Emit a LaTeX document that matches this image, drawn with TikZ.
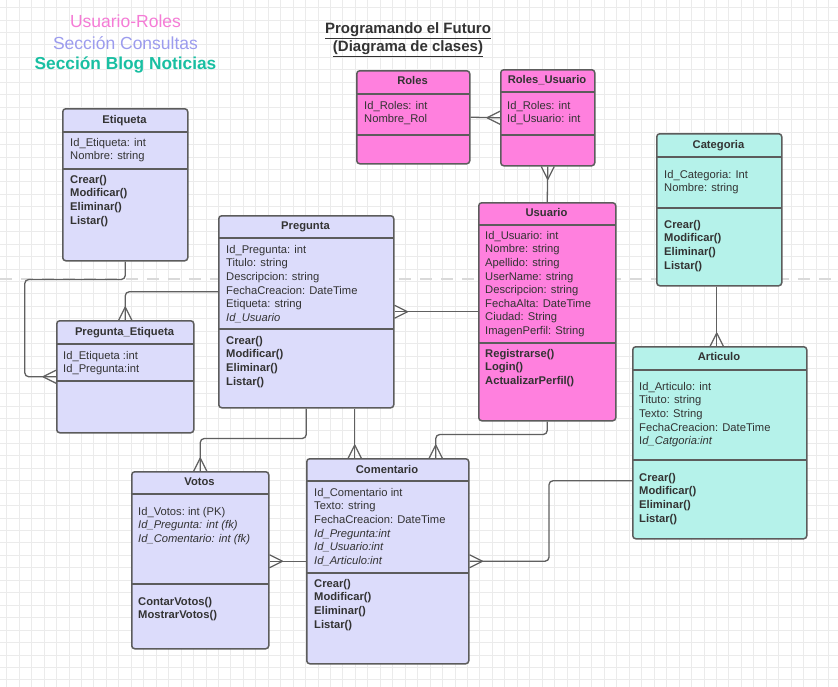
\documentclass[tikz,border=0pt]{standalone}
\usepackage{fontspec}
\setmainfont{Liberation Sans}
\usetikzlibrary{calc}
\definecolor{lav}{HTML}{DCDCFB}
\definecolor{pnk}{HTML}{FF80DE}
\definecolor{tea}{HTML}{B5F2EA}
\definecolor{bord}{HTML}{5C5C5C}
\definecolor{lnk}{HTML}{606060}
\definecolor{txtc}{HTML}{333333}
\definecolor{gridc}{HTML}{EBEBEB}
\definecolor{dashc}{HTML}{D9D9D9}
\definecolor{hpink}{HTML}{F57CD6}
\definecolor{hlav}{HTML}{9C9CEE}
\definecolor{htea}{HTML}{19BFA2}
\newcommand\crowfoot[3]{%
  \draw[conn,rounded corners=0pt] ($(#1)+(13*#2,13*#3)$) -- ($(#1)+(-6.5*#3,6.5*#2)$)
    ($(#1)+(13*#2,13*#3)$) -- ($(#1)+(6.5*#3,-6.5*#2)$);}
\tikzset{
  cls/.style={draw=bord, line width=1.5pt, rounded corners=3pt, inner sep=0pt, anchor=north west},
  div/.style={draw=bord, line width=1.5pt},
  conn/.style={draw=lnk, line width=1.3pt, rounded corners=4pt},
  ttl/.style={font=\fontsize{11.2}{13}\selectfont\bfseries, text=txtc, inner sep=0pt, anchor=base},
  att/.style={font=\fontsize{11.2}{13.6}\selectfont, text=txtc, align=left, inner sep=0pt, anchor=north west},
  mth/.style={att, font=\fontsize{11.2}{13.6}\selectfont\bfseries},
}
\begin{document}
\begin{tikzpicture}[x=1pt,y=-1pt]
\useasboundingbox (0,0) rectangle (838,686);
\fill[white] (0,0) rectangle (838,686);
% grid
\begin{scope}[shift={(6.7,7.5)}]
\draw[gridc, line width=0.8pt, step=12.45pt] (-12.45,-12.45) grid (840,690);
\end{scope}
\draw[dashc, line width=2.6pt, dash pattern=on 12pt off 9pt] (0,279) -- (838,279);

% headers
\node[font=\fontsize{17.5}{20}\selectfont, text=hpink, inner sep=0pt] (h1) at (125.5,21) {Usuario-Roles};
\node[font=\fontsize{17.5}{20}\selectfont, text=hlav, inner sep=0pt] (h2) at (125.5,43) {Sección Consultas};
\node[font=\fontsize{17.3}{20}\selectfont\bfseries, text=htea, inner sep=0pt] (h3) at (125.5,65) {Sección Blog Noticias};
\node[font=\fontsize{15}{18}\selectfont\bfseries, text=txtc, inner sep=0pt, align=center] (tt) at (408,40) {\underline{Programando el Futuro}\\[0pt]\underline{(Diagrama de clases)}};

% boxes
\node[cls, fill=lav, minimum width=125pt, minimum height=152pt] (et) at (62,108) {};
\node[cls, fill=pnk, minimum width=113pt, minimum height=93pt] (ro) at (356,70) {};
\node[cls, fill=pnk, minimum width=94pt, minimum height=96pt] (ru) at (500,69) {};
\node[cls, fill=pnk, minimum width=137pt, minimum height=218pt] (us) at (478,202) {};
\node[cls, fill=tea, minimum width=125pt, minimum height=152pt] (cat) at (656,133) {};
\node[cls, fill=tea, minimum width=174pt, minimum height=192pt] (art) at (632,346) {};
\node[cls, fill=lav, minimum width=175pt, minimum height=192pt] (pr) at (218,215) {};
\node[cls, fill=lav, minimum width=137pt, minimum height=112pt] (pe) at (56,320) {};
\node[cls, fill=lav, minimum width=137pt, minimum height=177pt] (vo) at (131,471) {};
\node[cls, fill=lav, minimum width=162pt, minimum height=205pt] (co) at (306,458) {};

% dividers
\draw[div] (62,132) -- (187,132) (62,169) -- (187,169);
\draw[div] (356,94) -- (469,94) (356,135) -- (469,135);
\draw[div] (500,92) -- (594,92) (500,135) -- (594,135);
\draw[div] (478,225) -- (615,225) (478,343) -- (615,343);
\draw[div] (656,157) -- (781,157) (656,208) -- (781,208);
\draw[div] (632,370) -- (806,370) (632,460) -- (806,460);
\draw[div] (218,238) -- (393,238) (218,329) -- (393,329);
\draw[div] (56,344) -- (193,344) (56,381) -- (193,381);
\draw[div] (131,494) -- (268,494) (131,584) -- (268,584);
\draw[div] (306,481) -- (468,481) (306,573) -- (468,573);

% connectors
\draw[conn] (ro.east) -- (ru.west);
\crowfoot{ru.west}{-1}{0}
\draw[conn] (ru.south) -- (us.north);
\crowfoot{ru.south}{0}{1}
\draw[conn] (us.west) -- (pr.east);
\crowfoot{pr.east}{1}{0}
\draw[conn] ([xshift=-2.5pt]cat.south) -- ([xshift=-3pt]art.north);
\crowfoot{[xshift=-3pt]art.north}{0}{-1}
\draw[conn] (et.south) -- ++(0,18) -- ++(-100.5,0) |- (pe.west);
\crowfoot{pe.west}{-1}{0}
\draw[conn] ([yshift=20pt]pr.west) -| (pe.north);
\crowfoot{pe.north}{0}{-1}
\draw[conn] (pr.south) -- ++(0,30) -| (vo.north);
\crowfoot{vo.north}{0}{-1}
\draw[conn] ([xshift=48.5pt]pr.south) -- ([xshift=-33pt]co.north);
\crowfoot{[xshift=-33pt]co.north}{0}{-1}
\draw[conn] (us.south) -- ++(0,13) -| ([xshift=48pt]co.north);
\crowfoot{[xshift=48pt]co.north}{0}{-1}
\draw[conn] (co.west) -- (co.west -| vo.east);
\crowfoot{co.west -| vo.east}{1}{0}
\draw[conn] ([yshift=-38pt]art.west) -- ++(-83,0) |- (co.east);
\crowfoot{co.east}{1}{0}

% texts
\node[ttl] (et-t) at (124.5,123) {Etiqueta};
\node[att] (et-a) at (70,138) {Id\_Etiqueta: int\\Nombre: string};
\node[mth] (et-m) at (70,175) {Crear()\\Modificar()\\Eliminar()\\Listar()};

\node[ttl] (ro-t) at (412.5,84) {Roles};
\node[att] (ro-a) at (364,101) {Id\_Roles: int\\Nombre\_Rol};

\node[ttl] (ru-t) at (547,83) {Roles\_Usuario};
\node[att] (ru-a) at (507,101) {Id\_Roles: int\\Id\_Usuario: int};

\node[ttl] (us-t) at (546.5,216) {Usuario};
\node[att] (us-a) at (485,231) {Id\_Usuario: int\\Nombre: string\\Apellido: string\\UserName: string\\Descripcion: string\\FechaAlta: DateTime\\Ciudad: String\\ImagenPerfil: String};
\node[mth] (us-m) at (485,349) {Registrarse()\\Login()\\ActualizarPerfil()};

\node[ttl] (cat-t) at (718.5,148) {Categoria};
\node[att] (cat-a) at (664,170) {Id\_Categoria: Int\\Nombre: string};
\node[mth] (cat-m) at (664,220) {Crear()\\Modificar()\\Eliminar()\\Listar()};

\node[ttl] (art-t) at (719,360) {Articulo};
\node[att] (art-a) at (639,382) {Id\_Articulo: int\\Tituto: string\\Texto: String\\FechaCreacion: DateTime\\I\textit{d\_Catgoria:int}};
\node[mth] (art-m) at (639,473) {Crear()\\Modificar()\\Eliminar()\\Listar()};

\node[ttl] (pr-t) at (305.5,229) {Pregunta};
\node[att] (pr-a) at (226,245) {Id\_Pregunta: int\\Titulo: string\\Descripcion: string\\FechaCreacion: DateTime\\Etiqueta: string\\\textit{Id\_Usuario}};
\node[mth] (pr-m) at (226,336) {Crear()\\Modificar()\\Eliminar()\\Listar()};

\node[ttl] (pe-t) at (124.5,335) {Pregunta\_Etiqueta};
\node[att] (pe-a) at (63,351) {Id\_Etiqueta :int\\Id\_Pregunta:int};

\node[ttl] (vo-t) at (199.5,485) {Votos};
\node[att] (vo-a) at (138,507) {Id\_Votos:\ int (PK)\\\textit{Id\_Pregunta: int (fk)}\\\textit{Id\_Comentario: int (fk)}};
\node[mth] (vo-m) at (138,597) {ContarVotos()\\MostrarVotos()};

\node[ttl] (co-t) at (387,473) {Comentario};
\node[att] (co-a) at (314,488) {Id\_Comentario int\\Texto: string\\FechaCreacion: DateTime\\\textit{Id\_Pregunta:int}\\\textit{Id\_Usuario:int}\\\textit{Id\_Articulo:int}};
\node[mth] (co-m) at (314,579) {Crear()\\Modificar()\\Eliminar()\\Listar()};
\end{tikzpicture}
\end{document}
